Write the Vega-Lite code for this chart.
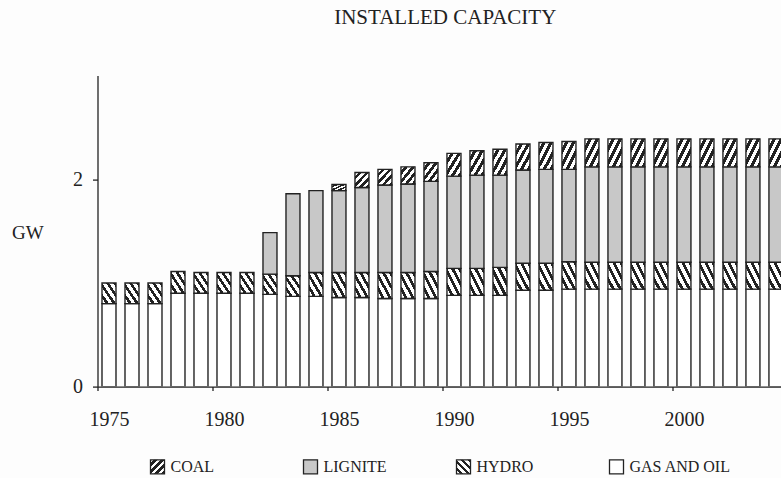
{
  "$schema": "https://vega.github.io/schema/vega-lite/v6.json",
  "width": 683.5,
  "height": 311,
  "autosize": {"type": "none"},
  "padding": {"left": 97.5, "top": 75.6, "right": 0, "bottom": 91.4},
  "background": "#fdfdfd",
  "params": [
    {
      "name": "coalHatch",
      "value": {
        "gradient": "linear", "x1": 0, "y1": 0, "x2": 1, "y2": 1,
        "stops": [
          {"offset": 0, "color": "white"}, {"offset": 0.125, "color": "white"},
          {"offset": 0.125, "color": "#222"}, {"offset": 0.25, "color": "#222"},
          {"offset": 0.25, "color": "white"}, {"offset": 0.375, "color": "white"},
          {"offset": 0.375, "color": "#222"}, {"offset": 0.5, "color": "#222"},
          {"offset": 0.5, "color": "white"}, {"offset": 0.625, "color": "white"},
          {"offset": 0.625, "color": "#222"}, {"offset": 0.75, "color": "#222"},
          {"offset": 0.75, "color": "white"}, {"offset": 0.875, "color": "white"},
          {"offset": 0.875, "color": "#222"}, {"offset": 1, "color": "#222"}
        ]
      }
    },
    {
      "name": "hydroHatch",
      "value": {
        "gradient": "linear", "x1": 0, "y1": 1, "x2": 1, "y2": 0,
        "stops": [
          {"offset": 0, "color": "white"}, {"offset": 0.14, "color": "white"},
          {"offset": 0.14, "color": "#222"}, {"offset": 0.25, "color": "#222"},
          {"offset": 0.25, "color": "white"}, {"offset": 0.39, "color": "white"},
          {"offset": 0.39, "color": "#222"}, {"offset": 0.5, "color": "#222"},
          {"offset": 0.5, "color": "white"}, {"offset": 0.64, "color": "white"},
          {"offset": 0.64, "color": "#222"}, {"offset": 0.75, "color": "#222"},
          {"offset": 0.75, "color": "white"}, {"offset": 0.89, "color": "white"},
          {"offset": 0.89, "color": "#222"}, {"offset": 1, "color": "#222"}
        ]
      }
    }
  ],
  "title": {
    "text": "INSTALLED CAPACITY",
    "font": "Liberation Serif",
    "fontSize": 21,
    "fontWeight": "normal",
    "color": "#222",
    "anchor": "middle",
    "baseline": "alphabetic",
    "offset": 31,
    "dx": 6
  },
  "data": {
    "values": [
      {"year": 1975, "GAS AND OIL": 0.80, "HYDRO": 0.20, "LIGNITE": 0, "COAL": 0},
      {"year": 1976, "GAS AND OIL": 0.80, "HYDRO": 0.20, "LIGNITE": 0, "COAL": 0},
      {"year": 1977, "GAS AND OIL": 0.80, "HYDRO": 0.20, "LIGNITE": 0, "COAL": 0},
      {"year": 1978, "GAS AND OIL": 0.90, "HYDRO": 0.21, "LIGNITE": 0, "COAL": 0},
      {"year": 1979, "GAS AND OIL": 0.90, "HYDRO": 0.20, "LIGNITE": 0, "COAL": 0},
      {"year": 1980, "GAS AND OIL": 0.90, "HYDRO": 0.20, "LIGNITE": 0, "COAL": 0},
      {"year": 1981, "GAS AND OIL": 0.90, "HYDRO": 0.20, "LIGNITE": 0, "COAL": 0},
      {"year": 1982, "GAS AND OIL": 0.89, "HYDRO": 0.195, "LIGNITE": 0.40, "COAL": 0},
      {"year": 1983, "GAS AND OIL": 0.87, "HYDRO": 0.20, "LIGNITE": 0.79, "COAL": 0},
      {"year": 1984, "GAS AND OIL": 0.87, "HYDRO": 0.23, "LIGNITE": 0.79, "COAL": 0},
      {"year": 1985, "GAS AND OIL": 0.86, "HYDRO": 0.24, "LIGNITE": 0.79, "COAL": 0.06},
      {"year": 1986, "GAS AND OIL": 0.86, "HYDRO": 0.24, "LIGNITE": 0.82, "COAL": 0.145},
      {"year": 1987, "GAS AND OIL": 0.85, "HYDRO": 0.25, "LIGNITE": 0.845, "COAL": 0.15},
      {"year": 1988, "GAS AND OIL": 0.85, "HYDRO": 0.25, "LIGNITE": 0.855, "COAL": 0.165},
      {"year": 1989, "GAS AND OIL": 0.85, "HYDRO": 0.26, "LIGNITE": 0.87, "COAL": 0.18},
      {"year": 1990, "GAS AND OIL": 0.88, "HYDRO": 0.26, "LIGNITE": 0.89, "COAL": 0.22},
      {"year": 1991, "GAS AND OIL": 0.88, "HYDRO": 0.26, "LIGNITE": 0.90, "COAL": 0.235},
      {"year": 1992, "GAS AND OIL": 0.88, "HYDRO": 0.27, "LIGNITE": 0.89, "COAL": 0.25},
      {"year": 1993, "GAS AND OIL": 0.93, "HYDRO": 0.26, "LIGNITE": 0.90, "COAL": 0.25},
      {"year": 1994, "GAS AND OIL": 0.93, "HYDRO": 0.26, "LIGNITE": 0.905, "COAL": 0.26},
      {"year": 1995, "GAS AND OIL": 0.94, "HYDRO": 0.265, "LIGNITE": 0.89, "COAL": 0.27},
      {"year": 1996, "GAS AND OIL": 0.94, "HYDRO": 0.26, "LIGNITE": 0.92, "COAL": 0.27},
      {"year": 1997, "GAS AND OIL": 0.94, "HYDRO": 0.26, "LIGNITE": 0.92, "COAL": 0.27},
      {"year": 1998, "GAS AND OIL": 0.94, "HYDRO": 0.26, "LIGNITE": 0.92, "COAL": 0.27},
      {"year": 1999, "GAS AND OIL": 0.94, "HYDRO": 0.26, "LIGNITE": 0.92, "COAL": 0.27},
      {"year": 2000, "GAS AND OIL": 0.94, "HYDRO": 0.26, "LIGNITE": 0.92, "COAL": 0.27},
      {"year": 2001, "GAS AND OIL": 0.94, "HYDRO": 0.26, "LIGNITE": 0.92, "COAL": 0.27},
      {"year": 2002, "GAS AND OIL": 0.94, "HYDRO": 0.26, "LIGNITE": 0.92, "COAL": 0.27},
      {"year": 2003, "GAS AND OIL": 0.94, "HYDRO": 0.26, "LIGNITE": 0.92, "COAL": 0.27},
      {"year": 2004, "GAS AND OIL": 0.94, "HYDRO": 0.26, "LIGNITE": 0.92, "COAL": 0.27}
    ]
  },
  "transform": [
    {"fold": ["GAS AND OIL", "HYDRO", "LIGNITE", "COAL"], "as": ["source", "gw"]},
    {"window": [{"op": "row_number", "as": "layer"}], "groupby": ["year"]},
    {"filter": "datum.gw > 0"}
  ],
  "mark": {
    "type": "bar",
    "width": 14,
    "strokeWidth": 1.4,
    "clip": true,
    "fill": {"expr": "(datum.source || datum.value) === 'COAL' ? coalHatch : (datum.source || datum.value) === 'HYDRO' ? hydroHatch : (datum.source || datum.value) === 'LIGNITE' ? '#c8c8c8' : 'white'"}
  },
  "encoding": {
    "x": {
      "field": "year",
      "type": "quantitative",
      "scale": {"domain": [1974.5, 2004.22], "nice": false, "zero": false, "padding": 0},
      "axis": {
        "values": [1974.5, 1979.5, 1984.5, 1989.5, 1994.5, 1999.5],
        "labelExpr": "format(datum.value + 0.5, 'd')",
        "labelOffset": 11.5,
        "labelFlush": false,
        "labelAngle": 0,
        "labelFont": "Liberation Serif",
        "labelFontSize": 20,
        "labelColor": "#222",
        "labelBaseline": "alphabetic",
        "labelPadding": 35,
        "tickSize": 4,
        "tickWidth": 1.3,
        "tickColor": "#222",
        "domainColor": "#222",
        "domainWidth": 1.3,
        "grid": false,
        "title": null
      }
    },
    "y": {
      "field": "gw",
      "type": "quantitative",
      "stack": "zero",
      "scale": {"domain": [0, 3], "nice": false},
      "axis": {
        "values": [0, 2],
        "title": "GW",
        "titleAngle": 0,
        "titleX": -86,
        "titleY": 157,
        "titleAlign": "left",
        "titleBaseline": "middle",
        "titleFont": "Liberation Serif",
        "titleFontSize": 19,
        "titleFontWeight": "normal",
        "titleColor": "#222",
        "labelFont": "Liberation Serif",
        "labelFontSize": 20,
        "labelColor": "#222",
        "labelPadding": 10,
        "tickSize": 5,
        "tickWidth": 1.3,
        "tickColor": "#222",
        "domainColor": "#222",
        "domainWidth": 1.3,
        "grid": false
      }
    },
    "order": {"field": "layer", "type": "quantitative"},
    "stroke": {
      "field": "source",
      "type": "nominal",
      "scale": {
        "domain": ["COAL", "LIGNITE", "HYDRO", "GAS AND OIL"],
        "range": ["#222", "#222", "#222", "#222"]
      },
      "legend": {
        "orient": "none",
        "legendX": 52,
        "legendY": 383,
        "direction": "horizontal",
        "columns": 4,
        "gridAlign": "all",
        "columnPadding": 28,
        "title": null,
        "padding": 0,
        "symbolType": "square",
        "symbolSize": 196,
        "symbolStrokeWidth": 1.3,
        "symbolOpacity": 1,
        "labelFont": "Liberation Serif",
        "labelFontSize": 16,
        "labelColor": "#222",
        "labelOffset": 5
      }
    }
  },
  "config": {"view": {"stroke": null}}
}
